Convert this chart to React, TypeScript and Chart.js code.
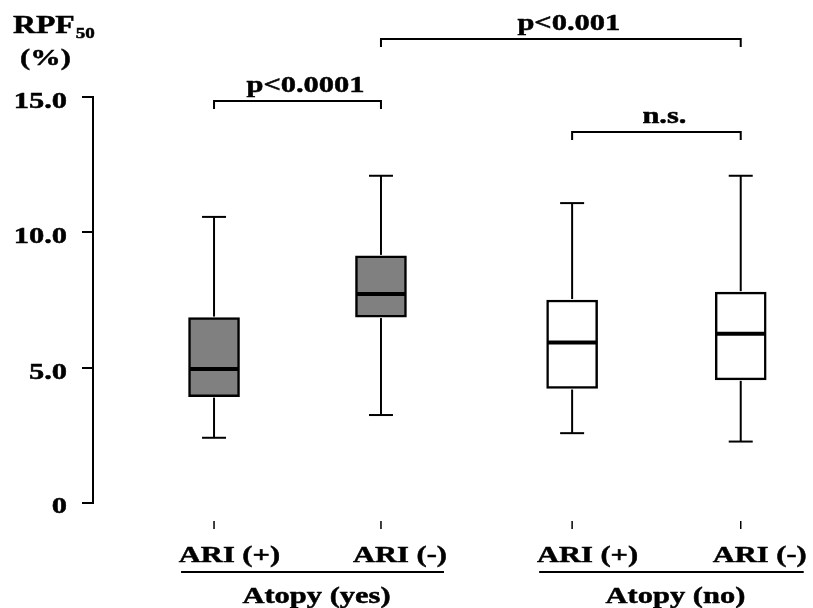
import React, { useEffect, useRef } from 'react';
import { Chart, registerables } from 'chart.js';

Chart.register(...registerables);

// ---- data ----
const categories = ['ARI (+)', 'ARI (-)', 'ARI (+)', 'ARI (-)'];
const groupLabels = ['Atopy (yes)', 'Atopy (no)'];
const groupFirst = [0, 2];
const groupLast = [1, 3];
const whiskerLow = [2.41, 3.25, 2.58, 2.27];
const q1 = [3.93, 6.87, 4.23, 4.55];
const median = [4.95, 7.72, 5.93, 6.25];
const q3 = [6.85, 9.13, 7.5, 7.79];
const whiskerHigh = [10.57, 12.09, 11.08, 12.09];
const yTicks = [0, 5, 10, 15];
const yTickLabels = ['0', '5.0', '10.0', '15.0'];
const bracketFrom = [0, 1, 2];
const bracketTo = [1, 3, 3];
const bracketLabels = ['p<0.0001', 'p<0.001', 'n.s.'];
const bracketLevels = [14.85, 17.15, 13.7];

// ---- layout / style ----
const xPositions = [1, 2, 3.145, 4.155];
const boxFill = ['#808080', '#808080', '#ffffff', '#ffffff'];
const SX = 1.27;
const FONT = '"Liberation Serif", "Times New Roman", serif';

function sText(ctx: CanvasRenderingContext2D, text: string, x: number, y: number, align: string, size: number) {
  ctx.save();
  ctx.font = `bold ${size}px ${FONT}`;
  ctx.textAlign = 'left';
  ctx.textBaseline = 'alphabetic';
  ctx.fillStyle = '#000';
  ctx.strokeStyle = '#000';
  ctx.lineWidth = 0.5;
  const w = ctx.measureText(text).width * SX;
  const left = align === 'center' ? x - w / 2 : align === 'right' ? x - w : x;
  ctx.translate(left, y);
  ctx.scale(SX, 1);
  ctx.fillText(text, 0, 0);
  ctx.strokeText(text, 0, 0);
  ctx.restore();
  return w;
}

function line(ctx: CanvasRenderingContext2D, x1: number, y1: number, x2: number, y2: number) {
  ctx.beginPath();
  ctx.moveTo(x1, y1);
  ctx.lineTo(x2, y2);
  ctx.stroke();
}

const boxPlugin = {
  id: 'boxExtras',
  beforeDraw(chart: any) {
    const ctx = chart.ctx;
    ctx.save();
    ctx.fillStyle = '#fff';
    ctx.fillRect(0, 0, chart.width, chart.height);
    ctx.restore();
  },
  afterDatasetsDraw(chart: any) {
    const ctx: CanvasRenderingContext2D = chart.ctx;
    const xs = chart.scales.x;
    const ys = chart.scales.y;
    const meta = chart.getDatasetMeta(0);
    ctx.save();
    ctx.strokeStyle = '#000';
    ctx.lineCap = 'butt';
    for (let i = 0; i < categories.length; i++) {
      const cx = xs.getPixelForValue(xPositions[i]);
      const bw = meta.data[i] ? meta.data[i].width : 50;
      const yHi = ys.getPixelForValue(whiskerHigh[i]);
      const yLo = ys.getPixelForValue(whiskerLow[i]);
      const yQ1 = ys.getPixelForValue(q1[i]);
      const yQ3 = ys.getPixelForValue(q3[i]);
      const yMed = ys.getPixelForValue(median[i]);
      ctx.lineWidth = 2;
      line(ctx, cx, yQ3 - 1, cx, yHi);
      line(ctx, cx, yQ1 + 1, cx, yLo);
      line(ctx, cx - 12, yHi, cx + 12, yHi);
      line(ctx, cx - 12, yLo, cx + 12, yLo);
      ctx.lineWidth = 4;
      line(ctx, cx - bw / 2 + 1, yMed, cx + bw / 2 - 1, yMed);
    }
    ctx.restore();
  },
  afterDraw(chart: any) {
    const ctx: CanvasRenderingContext2D = chart.ctx;
    const xs = chart.scales.x;
    const ys = chart.scales.y;
    const area = chart.chartArea;
    ctx.save();
    ctx.strokeStyle = '#000';

    // y tick labels
    yTicks.forEach((v, i) => {
      const py = ys.getPixelForValue(v);
      sText(ctx, yTickLabels[i], 67, py + (v === 0 ? 10 : 11), 'right', 24);
    });

    // axis title
    const w = sText(ctx, 'RPF', 13, 33, 'left', 25);
    sText(ctx, '50', 13 + w + 1, 38, 'left', 15);
    sText(ctx, '(%)', 20, 65, 'left', 24);

    // x ticks and labels
    const b = area.bottom;
    categories.forEach((c, i) => {
      const cx = xs.getPixelForValue(xPositions[i]);
      ctx.lineWidth = 1.5;
      line(ctx, cx, b + 18, cx, b + 26);
      sText(ctx, c, cx + 66, b + 59, 'right', 24);
    });

    // group underlines and labels
    groupLabels.forEach((g, k) => {
      const x1 = xs.getPixelForValue(xPositions[groupFirst[k]]) - 33;
      const x2 = xs.getPixelForValue(xPositions[groupLast[k]]) + 63;
      ctx.lineWidth = 2;
      line(ctx, x1, b + 69, x2, b + 69);
      sText(ctx, g, (x1 + x2) / 2 + 4, b + 100, 'center', 24);
    });

    // significance brackets
    bracketLabels.forEach((lab, k) => {
      const x1 = xs.getPixelForValue(xPositions[bracketFrom[k]]);
      const x2 = xs.getPixelForValue(xPositions[bracketTo[k]]);
      const y = Math.round(ys.getPixelForValue(bracketLevels[k]));
      ctx.lineWidth = 2;
      ctx.lineJoin = 'miter';
      ctx.beginPath();
      ctx.moveTo(x1, y + 8);
      ctx.lineTo(x1, y);
      ctx.lineTo(x2, y);
      ctx.lineTo(x2, y + 8);
      ctx.stroke();
      sText(ctx, lab, (x1 + x2) / 2 + 8, y - 9, 'center', 24);
    });
    ctx.restore();
  },
};

export default function App() {
  const ref = useRef<HTMLCanvasElement>(null);
  useEffect(() => {
    const chart = new Chart(ref.current as HTMLCanvasElement, {
      type: 'bar',
      data: {
        datasets: [
          {
            data: xPositions.map((x, i) => ({ x, y: [q1[i], q3[i]] })) as any,
            backgroundColor: boxFill,
            borderColor: '#000',
            borderWidth: 2.5,
            borderSkipped: false,
            barThickness: 51,
          } as any,
        ],
      },
      options: {
        responsive: false,
        animation: false,
        layout: { padding: { top: 97, bottom: 105, left: 0, right: 8 } },
        plugins: { legend: { display: false }, tooltip: { enabled: false } },
        scales: {
          x: { type: 'linear', min: 0.275, max: 4.54, offset: false, display: false },
          y: {
            min: 0,
            max: 15,
            afterFit: (s: any) => {
              s.width = 93;
            },
            afterBuildTicks: (s: any) => {
              s.ticks = yTicks.map((v) => ({ value: v }));
            },
            ticks: { display: false },
            grid: { drawOnChartArea: false, drawTicks: true, tickLength: 11, color: '#000', lineWidth: 2 },
            border: { display: true, color: '#000', width: 2 },
          },
        },
      } as any,
      plugins: [boxPlugin],
    });
    return () => chart.destroy();
  }, []);
  return (
    <div style={{ position: 'absolute', left: 0, top: 0, width: 813, height: 608, background: '#fff' }}>
      <canvas ref={ref} width={813} height={608} style={{ display: 'block' }} />
    </div>
  );
}
